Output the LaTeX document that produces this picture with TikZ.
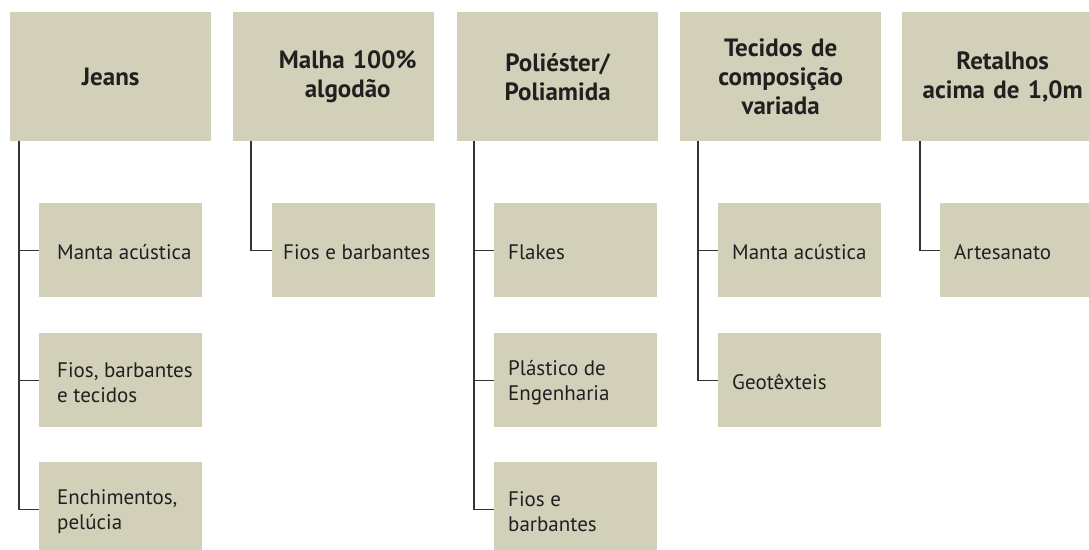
\documentclass[tikz,border=0pt]{standalone}
\usepackage{fontspec}
\setmainfont{PT Sans}
\usepackage{xcolor}
\usepackage{tikz}

\definecolor{fond}{RGB}{211,208,186}
\definecolor{encre}{RGB}{35,31,32}
\definecolor{grislien}{RGB}{51,51,51}

\begin{document}
\begin{tikzpicture}[x=1pt, y=-1pt,
  entete/.style={fill=fond, text=encre, anchor=north west,
    minimum width=201pt, minimum height=129pt, text width=197pt,
    inner xsep=2pt, align=center,
    font=\fontsize{25}{29}\selectfont\bfseries},
  produit/.style={fill=fond, anchor=north west,
    minimum width=163pt, minimum height=94pt, inner sep=0pt},
  texte/.style={anchor=west, xshift=14pt, yshift=-2pt, inner sep=0pt,
    align=left, text=encre, font=\fontsize{21}{25}\selectfont},
  lien/.style={draw=grislien, line width=1.2pt}]

%% cadre de l'image
\useasboundingbox (0,0) rectangle (1089,549);
\clip (0,0) rectangle (1089,549);

%% matieres (en-tetes)
\node[entete] (jeans) at (10,12) {Jeans};
\node[entete] (malha) at (233,12) {\hspace*{28pt}Malha 100\%\\\hspace*{28pt}algodão};
\node[entete] (poly) at (457,12) {Poliéster/\\Poliamida};
\node[entete] (tecidos) at (680,12) {Tecidos de\\composição\\variada};
\node[entete] (retalhos) at (902,12) {Retalhos\\acima de 1,0m};

%% produits
\node[produit, label={[texte, xshift=4pt]west:{Manta acústica}}] (jeansA) at (39,203) {};
\node[produit, label={[texte, xshift=4pt]west:{Fios, barbantes\\e tecidos}}] (jeansB) at (39,333) {};
\node[produit, label={[texte, xshift=4pt]west:{Enchimentos,\\pelúcia}}] (jeansC) at (39,462) {};

\node[produit, label={[texte, xshift=-3pt]west:{Fios e barbantes}}] (malhaA) at (272,203) {};

\node[produit, label={[texte]west:{Flakes}}] (polyA) at (494,203) {};
\node[produit, label={[texte]west:{Plástico de\\Engenharia}}] (polyB) at (494,333) {};
\node[produit, label={[texte]west:{Fios e\\barbantes}}] (polyC) at (494,462) {};

\node[produit, label={[texte]west:{Manta acústica}}] (tecidosA) at (718,203) {};
\node[produit, label={[texte]west:{Geotêxteis}}] (tecidosB) at (718,333) {};

\node[produit, label={[texte]west:{Artesanato}}] (retalhosA) at (940,203) {};

%% liens
\draw[lien] ([xshift=9pt]jeans.south west) |- (jeansC.west);
\draw[lien] ([xshift=9pt]jeans.south west) |- (jeansA.west);
\draw[lien] ([xshift=9pt]jeans.south west) |- (jeansB.west);

\draw[lien] ([xshift=18pt]malha.south west) |- (malhaA.west);

\draw[lien] ([xshift=17pt]poly.south west) |- (polyC.west);
\draw[lien] ([xshift=17pt]poly.south west) |- (polyA.west);
\draw[lien] ([xshift=17pt]poly.south west) |- (polyB.west);

\draw[lien] ([xshift=18pt]tecidos.south west) |- (tecidosB.west);
\draw[lien] ([xshift=18pt]tecidos.south west) |- (tecidosA.west);

\draw[lien] ([xshift=18pt]retalhos.south west) |- (retalhosA.west);

\end{tikzpicture}
\end{document}
